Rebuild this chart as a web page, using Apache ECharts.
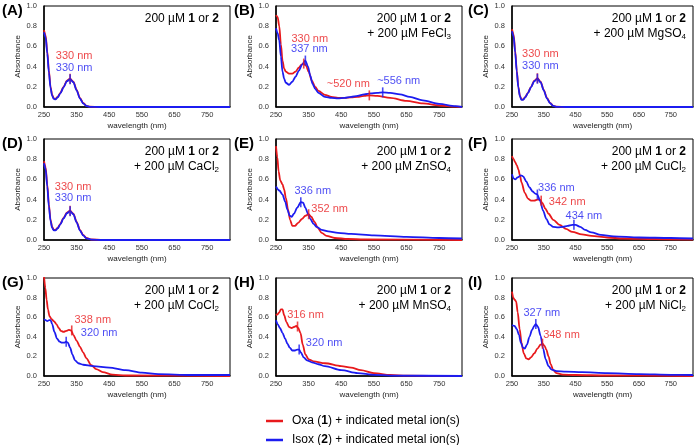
<!DOCTYPE html>
<html>
<head>
<meta charset="utf-8">
<script src="https://cdn.jsdelivr.net/npm/echarts@6/dist/echarts.min.js"></script>
<style>
  html, body { margin: 0; padding: 0; background: #fff; }
  #chart { width: 696px; height: 445px; }
</style>
</head>
<body>
<div id="chart"></div>
<script>
// spectra: [wavelength nm, absorbance]
var oxaA = [[250,0.76],[255,0.71],[260,0.55],[265,0.36],[270,0.2],[275,0.12],[280,0.085],[285,0.08],[292,0.1],[300,0.14],[310,0.2],[320,0.26],[330,0.28],[340,0.25],[350,0.17],[360,0.09],[370,0.04],[380,0.012],[390,0.003],[420,0],[820,0]];
var isoxA = [[250,0.74],[255,0.69],[260,0.53],[265,0.34],[270,0.19],[275,0.11],[280,0.08],[285,0.075],[292,0.095],[300,0.135],[310,0.195],[320,0.255],[330,0.275],[340,0.245],[350,0.165],[360,0.085],[370,0.035],[380,0.01],[390,0.002],[420,0],[820,0]];

var oxaB = [[250,0.91],[255,0.89],[260,0.8],[265,0.62],[270,0.46],[275,0.38],[280,0.35],[290,0.33],[300,0.33],[310,0.35],[320,0.39],[328,0.42],[335,0.43],[342,0.41],[350,0.35],[360,0.26],[370,0.2],[380,0.16],[400,0.12],[420,0.1],[440,0.09],[460,0.09],[480,0.095],[500,0.1],[520,0.11],[536,0.115],[560,0.11],[600,0.09],[650,0.06],[700,0.035],[750,0.015],[800,0.003],[820,0]];
var isoxB = [[250,0.78],[255,0.73],[260,0.66],[265,0.5],[270,0.35],[275,0.28],[280,0.24],[290,0.22],[300,0.25],[310,0.3],[320,0.36],[330,0.42],[340,0.46],[348,0.4],[355,0.31],[362,0.23],[370,0.18],[380,0.14],[400,0.1],[420,0.09],[440,0.085],[460,0.09],[480,0.1],[500,0.11],[520,0.125],[540,0.135],[560,0.14],[577,0.145],[600,0.14],[630,0.125],[660,0.1],[700,0.065],[750,0.03],[800,0.008],[820,0]];

var oxaC = [[250,0.77],[255,0.72],[260,0.56],[265,0.36],[270,0.2],[275,0.11],[280,0.075],[285,0.075],[292,0.1],[300,0.14],[310,0.2],[320,0.26],[330,0.285],[340,0.25],[350,0.17],[360,0.09],[370,0.04],[380,0.012],[390,0.003],[420,0],[820,0]];
var isoxC = [[250,0.75],[255,0.7],[260,0.54],[265,0.35],[270,0.19],[275,0.105],[280,0.07],[285,0.072],[292,0.097],[300,0.137],[310,0.197],[320,0.255],[330,0.28],[340,0.245],[350,0.165],[360,0.085],[370,0.037],[380,0.01],[390,0.002],[420,0],[820,0]];

var oxaD = [[250,0.78],[255,0.72],[260,0.55],[265,0.35],[270,0.2],[275,0.13],[280,0.1],[285,0.1],[292,0.12],[300,0.16],[310,0.22],[320,0.27],[330,0.29],[340,0.26],[350,0.18],[360,0.1],[370,0.05],[380,0.02],[395,0.005],[430,0],[820,0]];
var isoxD = [[250,0.76],[255,0.7],[260,0.53],[265,0.33],[270,0.19],[275,0.12],[280,0.095],[285,0.095],[292,0.115],[300,0.155],[310,0.215],[320,0.265],[330,0.285],[340,0.255],[350,0.175],[360,0.095],[370,0.045],[380,0.017],[395,0.004],[430,0],[820,0]];

var oxaE = [[250,0.93],[254,0.82],[258,0.68],[263,0.59],[270,0.55],[275,0.5],[280,0.42],[287,0.3],[293,0.2],[300,0.14],[308,0.14],[318,0.17],[330,0.21],[340,0.24],[350,0.255],[358,0.23],[368,0.18],[378,0.12],[390,0.07],[405,0.04],[430,0.02],[470,0.01],[520,0.005],[820,0]];
var isoxE = [[250,0.53],[260,0.49],[270,0.45],[278,0.38],[285,0.3],[292,0.24],[298,0.23],[305,0.26],[315,0.32],[326,0.375],[333,0.37],[340,0.32],[348,0.26],[355,0.21],[365,0.16],[375,0.13],[390,0.1],[410,0.085],[440,0.07],[480,0.06],[550,0.045],[650,0.03],[750,0.02],[820,0.015]];

var oxaF = [[250,0.83],[255,0.8],[260,0.77],[265,0.74],[270,0.7],[275,0.64],[280,0.57],[290,0.47],[300,0.41],[310,0.39],[320,0.39],[330,0.4],[338,0.4],[345,0.37],[355,0.31],[365,0.26],[380,0.2],[400,0.15],[420,0.11],[440,0.08],[470,0.055],[500,0.04],[550,0.025],[600,0.015],[700,0.01],[820,0.005]];
var isoxF = [[250,0.65],[255,0.61],[260,0.6],[268,0.62],[278,0.64],[285,0.63],[295,0.58],[305,0.52],[315,0.48],[323,0.46],[330,0.45],[338,0.39],[348,0.29],[358,0.21],[368,0.155],[380,0.13],[395,0.125],[410,0.13],[425,0.14],[440,0.15],[450,0.15],[465,0.13],[480,0.1],[500,0.075],[530,0.05],[570,0.035],[650,0.025],[750,0.02],[820,0.015]];

var oxaG = [[250,1.02],[254,0.9],[258,0.78],[262,0.68],[267,0.61],[273,0.58],[280,0.56],[288,0.53],[295,0.49],[302,0.46],[310,0.45],[318,0.46],[326,0.47],[333,0.465],[340,0.42],[350,0.36],[360,0.3],[370,0.24],[380,0.18],[395,0.11],[410,0.07],[430,0.04],[460,0.015],[500,0.005],[820,0]];
var isoxG = [[250,0.58],[255,0.57],[260,0.56],[266,0.57],[270,0.57],[275,0.53],[282,0.45],[290,0.38],[298,0.35],[305,0.34],[312,0.34],[318,0.35],[323,0.34],[330,0.29],[337,0.22],[345,0.16],[355,0.13],[370,0.115],[400,0.1],[450,0.085],[500,0.06],[550,0.035],[600,0.02],[700,0.01],[820,0.01]];

var oxaH = [[250,0.62],[255,0.63],[260,0.65],[265,0.68],[270,0.68],[275,0.62],[282,0.55],[290,0.5],[298,0.49],[305,0.5],[312,0.51],[318,0.49],[325,0.44],[332,0.32],[340,0.22],[350,0.17],[365,0.15],[400,0.13],[450,0.1],[480,0.085],[510,0.06],[550,0.03],[600,0.01],[650,0.003],[820,0]];
var isoxH = [[250,0.57],[255,0.53],[262,0.49],[270,0.44],[278,0.38],[285,0.33],[292,0.29],[300,0.26],[308,0.26],[315,0.27],[321,0.27],[326,0.24],[335,0.19],[345,0.16],[360,0.14],[380,0.12],[400,0.1],[450,0.06],[500,0.03],[550,0.012],[600,0.004],[820,0]];

var oxaI = [[250,0.86],[254,0.8],[258,0.78],[263,0.76],[268,0.65],[274,0.48],[280,0.34],[287,0.23],[295,0.18],[302,0.17],[310,0.19],[320,0.23],[330,0.28],[340,0.32],[346,0.33],[352,0.31],[358,0.27],[365,0.2],[372,0.12],[380,0.06],[390,0.03],[410,0.015],[450,0.01],[550,0.005],[820,0]];
var isoxI = [[250,0.52],[258,0.51],[265,0.48],[272,0.42],[278,0.34],[284,0.29],[290,0.28],[297,0.32],[305,0.4],[313,0.47],[320,0.51],[325,0.53],[332,0.5],[340,0.41],[348,0.28],[356,0.17],[365,0.1],[375,0.065],[390,0.05],[420,0.045],[470,0.04],[550,0.03],[650,0.02],[750,0.012],[820,0.01]];

// marked peaks: [wavelength, absorbance, label]
var pkOxaA = [[330,0.28,'330 nm']],            pkIsoxA = [[330,0.275,'330 nm']];
var pkOxaB = [[335,0.43,'330 nm'],[536,0.115,'~520 nm']], pkIsoxB = [[340,0.46,'337 nm'],[577,0.145,'~556 nm']];
var pkOxaC = [[330,0.285,'330 nm']],           pkIsoxC = [[330,0.28,'330 nm']];
var pkOxaD = [[330,0.29,'330 nm']],            pkIsoxD = [[330,0.285,'330 nm']];
var pkOxaE = [[350,0.255,'352 nm']],           pkIsoxE = [[326,0.375,'336 nm']];
var pkOxaF = [[342,0.39,'342 nm']],            pkIsoxF = [[330,0.45,'336 nm'],[445,0.15,'434 nm']];
var pkOxaG = [[335,0.465,'338 nm']],           pkIsoxG = [[318,0.35,'320 nm']];
var pkOxaH = [[316,0.505,'316 nm']],           pkIsoxH = [[321,0.27,'320 nm']];
var pkOxaI = [[346,0.33,'348 nm']],            pkIsoxI = [[325,0.53,'327 nm']];

var panelLetters = ['A','B','C','D','E','F','G','H','I'];
var metalSalts = ['', 'FeCl3', 'MgSO4', 'CaCl2', 'ZnSO4', 'CuCl2', 'CoCl2', 'MnSO4', 'NiCl2'];
var xTickLabels = [250, 350, 450, 550, 650, 750];
var seriesNames = ['Oxa (1) + indicated metal ion(s)', 'Isox (2) + indicated metal ion(s)'];

var oxaData = [oxaA, oxaB, oxaC, oxaD, oxaE, oxaF, oxaG, oxaH, oxaI];
var isoxData = [isoxA, isoxB, isoxC, isoxD, isoxE, isoxF, isoxG, isoxH, isoxI];
var oxaPeaks = [pkOxaA, pkOxaB, pkOxaC, pkOxaD, pkOxaE, pkOxaF, pkOxaG, pkOxaH, pkOxaI];
var isoxPeaks = [pkIsoxA, pkIsoxB, pkIsoxC, pkIsoxD, pkIsoxE, pkIsoxF, pkIsoxG, pkIsoxH, pkIsoxI];

// layout
var RED = '#e8191c', BLUE = '#1c1cf0';
var FONT = 'Liberation Sans, Arial, sans-serif';
var colLeft = [44, 276, 512], colWidth = [186, 186, 181];
var rowTop = [6, 139, 278], rowHeight = [101, 101, 98];
var letterX = [2, 234, 468];
var noteRight = [219, 451, 686];
// label offsets (px) for each peak label
var oxaOffsets = [[[4,-23]], [[6,-25],[-21,-11]], [[3,-24]], [[3,-24]], [[21,-5]], [[26,1]], [[21,-10]], [[8,-12]], [[19,-9]]];
var isoxOffsets = [[[4,-11]], [[4,-12],[16,-11]], [[3,-13]], [[3,-13]], [[12,-11]], [[19,-7],[10,-9]], [[33,-9]], [[25,-7]], [[6,-11]]];

var grids = [], xAxes = [], yAxes = [], series = [], graphics = [];

function peakItems(list, offsets) {
  return list.map(function(p, k) {
    return {
      value: [p[0], p[1]],
      label: { formatter: p[2], offset: offsets[k] }
    };
  });
}

for (var i = 0; i < 9; i++) {
  var c = i % 3, r = Math.floor(i / 3);
  grids.push({
    left: colLeft[c], top: rowTop[r], width: colWidth[c], height: rowHeight[r],
    show: true, borderColor: '#000', borderWidth: 1, backgroundColor: '#fff'
  });
  xAxes.push({
    gridIndex: i, type: 'value', min: 250, max: 820, interval: 50,
    name: 'wavelength (nm)', nameLocation: 'middle', nameGap: 15,
    nameTextStyle: { fontSize: 8, color: '#222', fontFamily: FONT },
    axisLine: { lineStyle: { color: '#000', width: 1.5 } },
    axisTick: { show: false }, splitLine: { show: false },
    axisLabel: {
      fontSize: 7.5, color: '#333', fontFamily: FONT, margin: 4,
      formatter: function(v) { return xTickLabels.indexOf(v) >= 0 ? String(v) : ''; }
    }
  });
  yAxes.push({
    gridIndex: i, type: 'value', min: 0, max: 1, interval: 0.2,
    name: 'Absorbance', nameLocation: 'middle', nameGap: 22, nameRotate: 90,
    nameTextStyle: { fontSize: 8, color: '#222', fontFamily: FONT },
    axisLine: { lineStyle: { color: '#000', width: 1.5 } },
    axisTick: { show: false }, splitLine: { show: false },
    axisLabel: {
      fontSize: 7.5, color: '#333', fontFamily: FONT, margin: 7,
      formatter: function(v) { return v.toFixed(1); }
    }
  });

  series.push({
    name: seriesNames[0], type: 'line', xAxisIndex: i, yAxisIndex: i,
    data: oxaData[i], smooth: 0.3, smoothMonotone: 'x', showSymbol: false,
    lineStyle: { color: RED, width: 1.8 }, itemStyle: { color: RED }, z: 2
  });
  series.push({
    name: seriesNames[1], type: 'line', xAxisIndex: i, yAxisIndex: i,
    data: isoxData[i], smooth: 0.3, smoothMonotone: 'x', showSymbol: false,
    lineStyle: { color: BLUE, width: 1.8 }, itemStyle: { color: BLUE }, z: 3
  });
  [[oxaPeaks[i], oxaOffsets[i], RED], [isoxPeaks[i], isoxOffsets[i], BLUE]].forEach(function(pk) {
    series.push({
      name: 'peaks', type: 'scatter', xAxisIndex: i, yAxisIndex: i,
      symbol: 'rect', symbolSize: [1.6, 10], itemStyle: { color: pk[2] }, z: 4,
      label: { show: true, position: 'inside', color: pk[2], fontSize: 11, fontFamily: FONT },
      data: peakItems(pk[0], pk[1])
    });
  });

  // panel letter
  graphics.push({
    type: 'text', x: letterX[c], y: rowTop[r] - 3,
    style: { text: '(' + panelLetters[i] + ')', fontSize: 15, fontWeight: 'bold', fontFamily: FONT, fill: '#000' }
  });
  // condition note
  var note = '{n|200 µM }{b|1}{n| or }{b|2}';
  if (metalSalts[i]) {
    note += '\n{n|+ 200 µM ' + metalSalts[i].replace(/(\d)$/, '}{s|$1}');
  }
  graphics.push({
    type: 'text', x: noteRight[c], y: rowTop[r] + 5, z: 10,
    style: {
      text: note, align: 'right', verticalAlign: 'top', fill: '#000',
      fontSize: 12, fontFamily: FONT, lineHeight: 15,
      rich: {
        n: { fontSize: 12, fontFamily: FONT, fill: '#000', lineHeight: 15 },
        b: { fontSize: 12, fontFamily: FONT, fill: '#000', fontWeight: 'bold', lineHeight: 15 },
        s: { fontSize: 8, fontFamily: FONT, fill: '#000', lineHeight: 15, verticalAlign: 'bottom' }
      }
    }
  });
}

function legendFor(name, top) {
  return {
    data: [name], left: 261, top: top,
    icon: 'rect', itemWidth: 17, itemHeight: 2.5,
    textStyle: {
      fontSize: 12, color: '#000', fontFamily: FONT, padding: [0, 0, 0, 4],
      rich: { b: { fontSize: 12, fontWeight: 'bold', fontFamily: FONT, color: '#000' } }
    },
    formatter: function(n) { return n.replace(/\((\d)\)/, '({b|$1})'); }
  };
}

var myChart = echarts.init(document.getElementById('chart'), null, { renderer: 'canvas' });
myChart.setOption({
  animation: false,
  backgroundColor: '#fff',
  grid: grids,
  xAxis: xAxes,
  yAxis: yAxes,
  series: series,
  graphic: graphics,
  legend: [legendFor(seriesNames[0], 410), legendFor(seriesNames[1], 429)]
});
</script>
</body>
</html>
